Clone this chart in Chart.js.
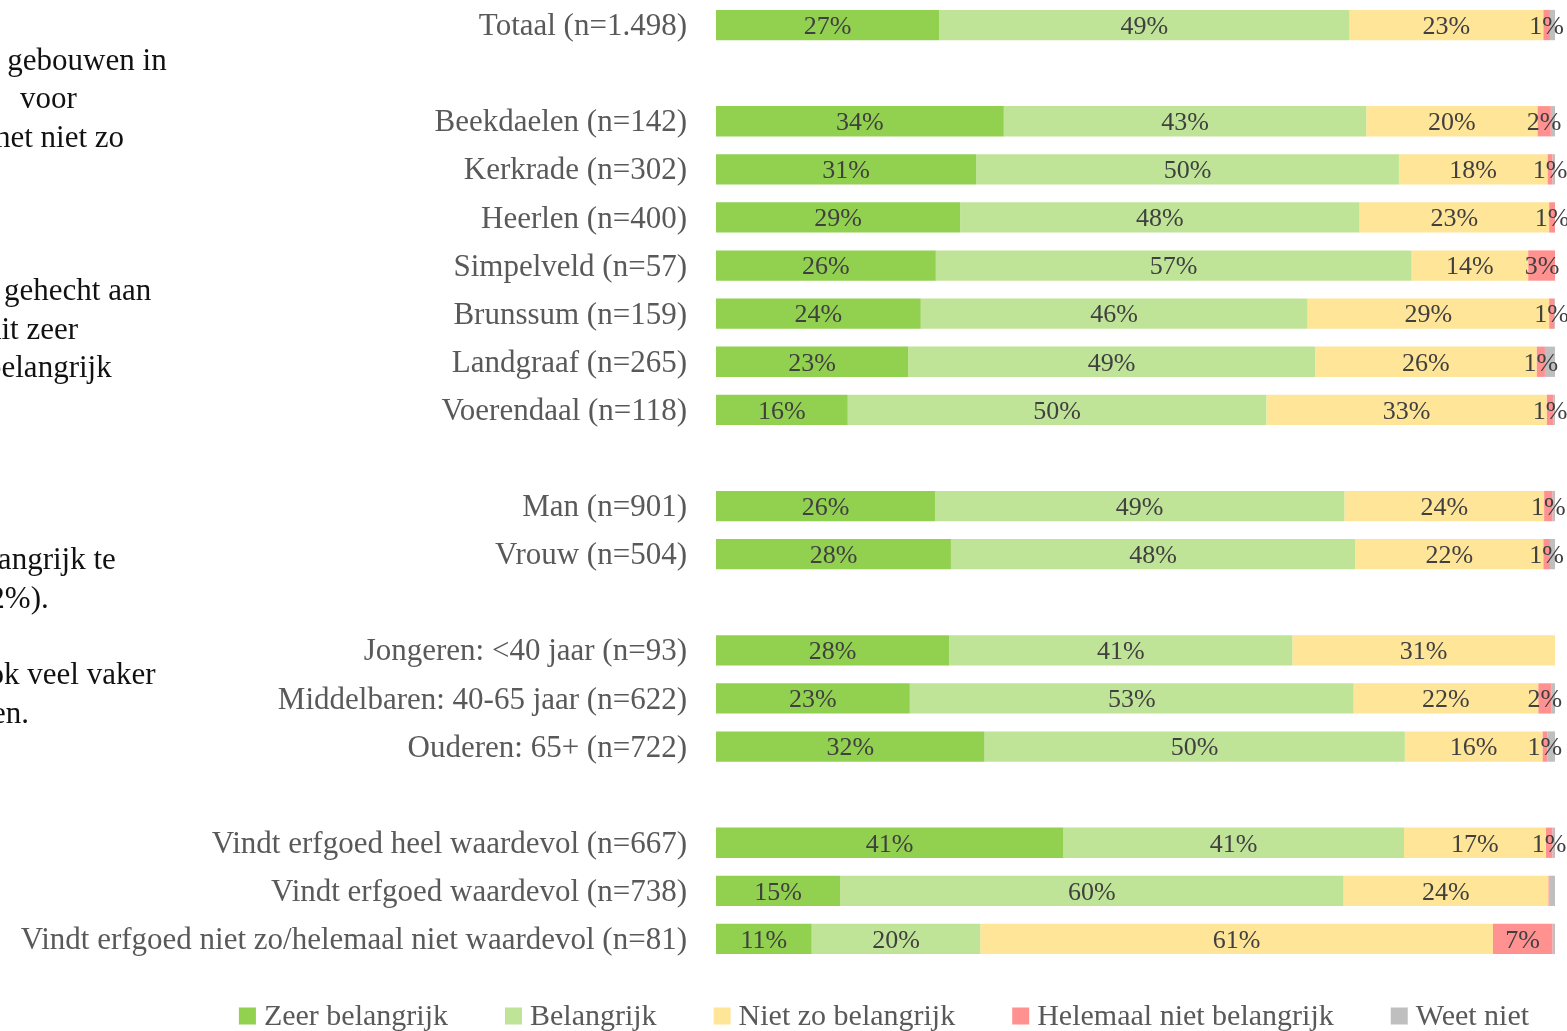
<!DOCTYPE html>
<html>
<head>
<meta charset="utf-8">
<script src="https://cdn.jsdelivr.net/npm/chart.js@4/dist/chart.umd.min.js"></script>
<style>
  html, body { margin: 0; padding: 0; background: #fff; overflow: hidden; }
  #wrap { position: relative; width: 1567px; height: 1031px; }
  #c { position: absolute; left: 0; top: 0; }
  .body-text { position: absolute; font-family: "Liberation Serif", serif; font-size: 31px; color: #111; white-space: nowrap; line-height: 38px; }
</style>
</head>
<body>
<div id="wrap">
  <canvas id="c" width="1567" height="1031"></canvas>
  <div class="body-text" style="left:-9px; top:41px;">t gebouwen in</div>
  <div class="body-text" style="left:20px; top:79px;">voor</div>
  <div class="body-text" style="left:-5px; top:118px;">het niet zo</div>
  <div class="body-text" style="left:4px; top:271px;">gehecht aan</div>
  <div class="body-text" style="left:-14px; top:310px;">dit zeer</div>
  <div class="body-text" style="left:-14px; top:348px;">belangrijk</div>
  <div class="body-text" style="left:-40px; top:540px;">belangrijk te</div>
  <div class="body-text" style="left:-21px; top:579px;">(2%).</div>
  <div class="body-text" style="left:-27px; top:655px;">ook veel vaker</div>
  <div class="body-text" style="left:-8px; top:694px;">en.</div>
</div>
<script>
const categories = [
  'Totaal (n=1.498)', '',
  'Beekdaelen (n=142)', 'Kerkrade (n=302)', 'Heerlen (n=400)', 'Simpelveld (n=57)',
  'Brunssum (n=159)', 'Landgraaf (n=265)', 'Voerendaal (n=118)', '',
  'Man (n=901)', 'Vrouw (n=504)', '',
  'Jongeren: <40 jaar (n=93)', 'Middelbaren: 40-65 jaar (n=622)', 'Ouderen: 65+ (n=722)', '',
  'Vindt erfgoed heel waardevol (n=667)', 'Vindt erfgoed waardevol (n=738)',
  'Vindt erfgoed niet zo/helemaal niet waardevol (n=81)'
];
const seriesNames = ['Zeer belangrijk', 'Belangrijk', 'Niet zo belangrijk', 'Helemaal niet belangrijk', 'Weet niet'];
const zeerBelangrijk = [26.6, null, 34.3, 31.0, 29.1, 26.2, 24.4, 22.9, 15.7, null, 26.1, 28.0, null, 27.8, 23.1, 32.0, null, 41.4, 14.8, 11.4];
const belangrijk     = [48.9, null, 43.2, 50.4, 47.6, 56.7, 46.1, 48.5, 49.9, null, 48.8, 48.2, null, 40.9, 52.9, 50.1, null, 40.6, 60.0, 20.1];
const nietZo         = [23.1, null, 20.4, 17.7, 22.6, 13.9, 28.8, 26.4, 33.4, null, 23.8, 22.4, null, 31.3, 22.0, 16.4, null, 16.9, 24.4, 61.1];
const helemaalNiet   = [0.8,  null, 1.6,  0.6,  0.7,  3.3,  0.6,  1.0,  0.8,  null, 1.0,  0.8,  null, 0,    1.6,  0.6,  null, 0.8,  0.1,  7.1];
const weetNiet       = [0.6,  null, 0.5,  0.3,  0,    0,    0.1,  1.2,  0.2,  null, 0.3,  0.6,  null, 0,    0.4,  0.9,  null, 0.3,  0.7,  0.3];
const seriesValues = [zeerBelangrijk, belangrijk, nietZo, helemaalNiet, weetNiet];
const seriesColors = ['#92D050', '#C0E497', '#FFE597', '#FF9191', '#BFBFBF'];

const SERIF = '"Liberation Serif", "DejaVu Serif", serif';

const barLabelPlugin = {
  id: 'barLabels',
  afterDatasetsDraw(chart) {
    const ctx = chart.ctx;
    ctx.save();
    ctx.font = '26px ' + SERIF;
    ctx.fillStyle = '#404040';
    ctx.textAlign = 'center';
    ctx.textBaseline = 'middle';
    chart.data.datasets.forEach((ds, di) => {
      if (ds.showLabels === false) return;
      const meta = chart.getDatasetMeta(di);
      meta.data.forEach((el, i) => {
        const v = ds.data[i];
        if (v == null || v < 0.5) return;
        const p = el.getProps(['x', 'y', 'base'], true);
        ctx.fillText(Math.round(v) + '%', (p.x + p.base) / 2, p.y + 2);
      });
    });
    ctx.restore();
  }
};

const legendPlugin = {
  id: 'customLegend',
  afterDraw(chart) {
    const ctx = chart.ctx;
    ctx.save();
    ctx.font = '30px ' + SERIF;
    ctx.textBaseline = 'middle';
    ctx.textAlign = 'left';
    const box = 17, gapText = 8, gapItem = 57;
    const items = chart.data.datasets.map(ds => ({ text: ds.label, color: ds.backgroundColor }));
    let total = 0;
    items.forEach((it, i) => {
      it.w = ctx.measureText(it.text).width;
      total += box + gapText + it.w + (i < items.length - 1 ? gapItem : 0);
    });
    let x = 884 - total / 2;
    const y = 1016;
    items.forEach(it => {
      ctx.fillStyle = it.color;
      ctx.fillRect(x, y - box / 2, box, box);
      ctx.fillStyle = '#595959';
      ctx.fillText(it.text, x + box + gapText, y + 1);
      x += box + gapText + it.w + gapItem;
    });
    ctx.restore();
  }
};

new Chart(document.getElementById('c'), {
  type: 'bar',
  data: {
    labels: categories,
    datasets: seriesValues.map((vals, i) => ({
      label: seriesNames[i],
      data: vals,
      backgroundColor: seriesColors[i],
      borderWidth: 0,
      barPercentage: 0.63,
      categoryPercentage: 1.0,
      showLabels: i < 4
    }))
  },
  options: {
    indexAxis: 'y',
    responsive: false,
    animation: false,
    layout: { padding: { left: 0, right: 12, top: 1, bottom: 68 } },
    plugins: { legend: { display: false }, tooltip: { enabled: false } },
    scales: {
      x: { stacked: true, min: 0, max: 100, display: false },
      y: {
        stacked: true,
        grid: { display: false, drawTicks: false },
        border: { display: false },
        ticks: {
          font: { family: SERIF, size: 31 },
          color: '#595959',
          padding: 29,
          labelOffset: 2,
          autoSkip: false
        },
        afterFit(scale) {
          scale.width = 716;
          scale.paddingTop = 0;
          scale.paddingBottom = 0;
        }
      }
    }
  },
  plugins: [barLabelPlugin, legendPlugin]
});
</script>
</body>
</html>
